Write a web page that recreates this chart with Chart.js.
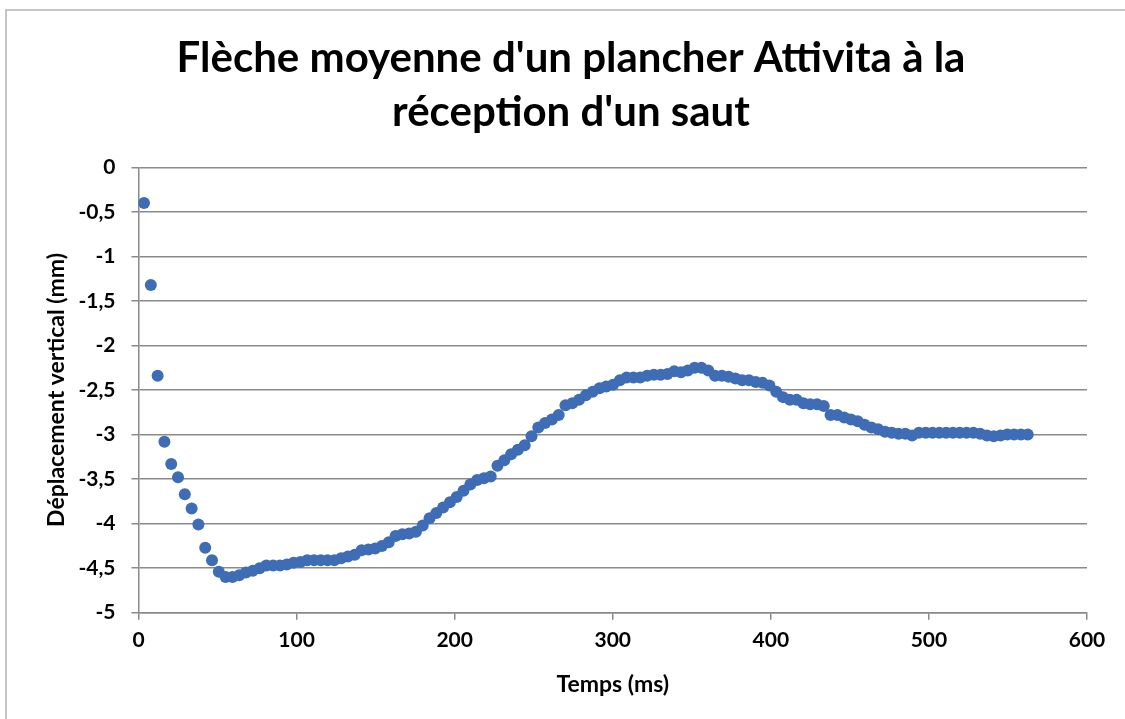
<!DOCTYPE html>
<html>
<head>
<meta charset="utf-8">
<script src="https://cdn.jsdelivr.net/npm/chart.js@4.4.1/dist/chart.umd.min.js"></script>
<style>
  html, body { margin: 0; padding: 0; background: #ffffff; }
  #wrap { width: 1125px; height: 719px; position: relative; }
</style>
</head>
<body>
<div id="wrap"><canvas id="c" width="1125" height="719"></canvas></div>
<script>
// ---- Data ----
const chartTitle = ["Flèche moyenne d'un plancher Attivita à la", "réception d'un saut"];
const xAxisTitle = "Temps (ms)";
const yAxisTitle = "Déplacement vertical (mm)";

const timeMs = [
  3.5, 7.8, 12.1, 16.4, 20.7, 25.0, 29.3, 33.6, 37.9, 42.2,
  46.5, 50.8, 55.1, 59.4, 63.7, 68.0, 72.3, 76.6, 80.9, 85.2,
  89.5, 93.8, 98.1, 102.4, 106.7, 111.0, 115.3, 119.6, 123.9, 128.2,
  132.5, 136.8, 141.1, 145.4, 149.7, 154.0, 158.3, 162.6, 166.9, 171.2,
  175.5, 179.8, 184.1, 188.4, 192.7, 197.0, 201.3, 205.6, 209.9, 214.2,
  218.5, 222.8, 227.1, 231.4, 235.7, 240.0, 244.3, 248.6, 252.9, 257.2,
  261.5, 265.8, 270.1, 274.4, 278.7, 283.0, 287.3, 291.6, 295.9, 300.2,
  304.5, 308.8, 313.1, 317.4, 321.7, 326.0, 330.3, 334.6, 338.9, 343.2,
  347.5, 351.8, 356.1, 360.4, 364.7, 369.0, 373.3, 377.6, 381.9, 386.2,
  390.5, 394.8, 399.1, 403.4, 407.7, 412.0, 416.3, 420.6, 424.9, 429.2,
  433.5, 437.8, 442.1, 446.4, 450.7, 455.0, 459.3, 463.6, 467.9, 472.2,
  476.5, 480.8, 485.1, 489.4, 493.7, 498.0, 502.3, 506.6, 510.9, 515.2,
  519.5, 523.8, 528.1, 532.4, 536.7, 541.0, 545.3, 549.6, 553.9, 558.2,
  562.5
];

const displacementMm = [
  -0.40, -1.32, -2.34, -3.08, -3.33, -3.48, -3.67, -3.83, -4.01, -4.27,
  -4.41, -4.54, -4.60, -4.60, -4.58, -4.55, -4.53, -4.50, -4.47, -4.47,
  -4.47, -4.46, -4.44, -4.43, -4.41, -4.41, -4.41, -4.41, -4.41, -4.39,
  -4.37, -4.35, -4.30, -4.29, -4.28, -4.25, -4.21, -4.14, -4.12, -4.11,
  -4.09, -4.02, -3.94, -3.88, -3.82, -3.76, -3.70, -3.63, -3.56, -3.51,
  -3.49, -3.47, -3.35, -3.29, -3.22, -3.17, -3.12, -3.02, -2.92, -2.87,
  -2.83, -2.78, -2.67, -2.65, -2.61, -2.56, -2.52, -2.48, -2.46, -2.44,
  -2.39, -2.36, -2.36, -2.36, -2.34, -2.33, -2.33, -2.32, -2.29, -2.30,
  -2.28, -2.25, -2.25, -2.28, -2.34, -2.34, -2.35, -2.37, -2.39, -2.39,
  -2.41, -2.42, -2.45, -2.52, -2.58, -2.61, -2.61, -2.65, -2.66, -2.66,
  -2.68, -2.78, -2.78, -2.81, -2.83, -2.85, -2.89, -2.92, -2.94, -2.97,
  -2.98, -2.99, -2.99, -3.01, -2.98, -2.98, -2.98, -2.98, -2.98, -2.98,
  -2.98, -2.98, -2.98, -2.99, -3.01, -3.02, -3.01, -3.00, -3.00, -3.00,
  -3.00
];

const xTickValues = [0, 100, 200, 300, 400, 500, 600];
const xTickLabels = ["0", "100", "200", "300", "400", "500", "600"];
const yTickValues = [0, -0.5, -1, -1.5, -2, -2.5, -3, -3.5, -4, -4.5, -5];
const yTickLabels = ["0", "-0,5", "-1", "-1,5", "-2", "-2,5", "-3", "-3,5", "-4", "-4,5", "-5"];

// ---- Build chart ----
const points = timeMs.map((t, i) => ({ x: t, y: displacementMm[i] }));

function labelFor(values, labels, v) {
  for (let i = 0; i < values.length; i++) {
    if (Math.abs(values[i] - v) < 1e-9) return labels[i];
  }
  return "";
}

const FONT = "Lato, 'Liberation Sans', sans-serif";
const GRID = "#8a8a8a";

const framePlugin = {
  id: "frame",
  beforeDraw(chart) {
    const ctx = chart.ctx;
    ctx.save();
    ctx.fillStyle = "#ffffff";
    ctx.fillRect(0, 0, chart.width, chart.height);
    ctx.strokeStyle = "#b4b4b4";
    ctx.lineWidth = 1.5;
    ctx.beginPath();
    ctx.moveTo(6, chart.height + 2);
    ctx.lineTo(6, 10);
    ctx.lineTo(chart.width + 2, 10);
    ctx.stroke();
    ctx.restore();
  }
};

new Chart(document.getElementById("c"), {
  type: "scatter",
  data: {
    datasets: [{
      label: "Flèche",
      data: points,
      backgroundColor: "#3E6DB5",
      borderColor: "#3E6DB5",
      borderWidth: 0,
      pointRadius: 6,
      pointHoverRadius: 6,
      showLine: false
    }]
  },
  options: {
    responsive: false,
    animation: false,
    devicePixelRatio: 1,
    layout: { padding: { left: 17, right: 0, top: 0, bottom: 0 } },
    plugins: {
      legend: { display: false },
      tooltip: { enabled: false },
      title: {
        display: true,
        text: chartTitle,
        color: "#000000",
        font: { family: FONT, size: 42, weight: "bold", lineHeight: 1.2857 },
        padding: { top: 31, bottom: 28.3 }
      }
    },
    scales: {
      x: {
        type: "linear",
        position: "bottom",
        min: 0,
        max: 600,
        afterBuildTicks(scale) { scale.ticks = xTickValues.map(v => ({ value: v })); },
        afterFit(scale) { scale.height = 106.3; },
        ticks: {
          color: "#000000",
          font: { family: FONT, size: 21, weight: "bold" },
          padding: 7.7,
          maxRotation: 0,
          autoSkip: false,
          callback: (v) => labelFor(xTickValues, xTickLabels, v)
        },
        grid: { drawOnChartArea: false, drawTicks: true, tickLength: 7, color: GRID, lineWidth: 1.5 },
        border: { display: true, color: GRID, width: 1.5 },
        title: {
          display: true,
          text: xAxisTitle,
          color: "#000000",
          font: { family: FONT, size: 23, weight: "bold", lineHeight: 1.2 },
          padding: { top: 0, bottom: 20.2 }
        }
      },
      y: {
        type: "linear",
        position: "left",
        min: -5,
        max: 0,
        afterBuildTicks(scale) { scale.ticks = yTickValues.slice().reverse().map(v => ({ value: v })); },
        afterFit(scale) { scale.width = 121.5; },
        ticks: {
          color: "#000000",
          font: { family: FONT, size: 21, weight: "bold" },
          padding: 16,
          autoSkip: false,
          callback: (v) => labelFor(yTickValues, yTickLabels, v)
        },
        grid: { drawOnChartArea: true, drawTicks: true, tickLength: 7, color: GRID, lineWidth: 1.5 },
        border: { display: true, color: GRID, width: 1.5 },
        title: {
          display: true,
          text: yAxisTitle,
          color: "#000000",
          font: { family: FONT, size: 23, weight: "bold", lineHeight: 1.2 },
          padding: { top: 26.2, bottom: 0 }
        }
      },
      yRight: {
        type: "linear",
        position: "right",
        min: 0,
        max: 1,
        display: true,
        ticks: { display: false },
        grid: { display: false, drawTicks: false },
        border: { display: false },
        afterFit(scale) { scale.width = 38; }
      }
    }
  },
  plugins: [framePlugin]
});
</script>
</body>
</html>
